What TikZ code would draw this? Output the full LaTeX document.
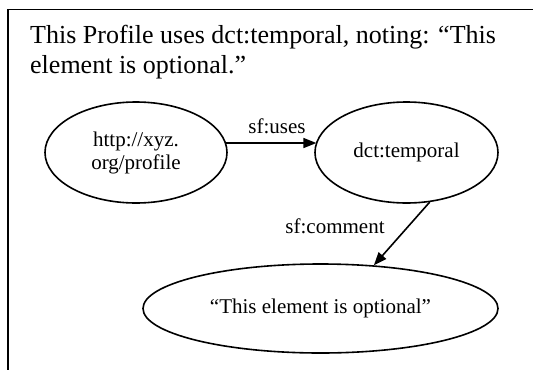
\documentclass[tikz,border=0pt]{standalone}
\usepackage{fontspec}
\setmainfont{Liberation Serif}
\usetikzlibrary{shapes.geometric,arrows.meta}
\tikzset{
  ell/.style={draw, ellipse, line width=1.6pt, inner sep=0pt, font=\fontsize{21}{23}\selectfont, align=center},
  arr/.style={line width=1.6pt, -{Triangle[length=13pt,width=10pt]}},
  lbl/.style={font=\fontsize{21}{23}\selectfont, inner sep=0pt},
  ttl/.style={font=\fontsize{26}{30}\selectfont, inner sep=0pt, anchor=base west}
}
\begin{document}
\begin{tikzpicture}[x=1pt,y=-1pt]
\useasboundingbox (0,0) rectangle (533,370);
\draw[line width=1.8pt] (533,9.5) -- (8,9.5) -- (8,370);
\node[ttl] (t1) at (30,43) {This Profile uses dct:temporal, noting: “This};
\node[ttl] (t2) at (30,73) {element is optional.”};
\node[ell, minimum width=182pt, minimum height=101pt] (A) at (136,152.5) {http://xyz.\\ org/profile};
\node[ell, minimum width=183pt, minimum height=101pt] (B) at (406.5,152.5) {dct:temporal};
\node[ell, minimum width=355pt, minimum height=89pt] (C) at (320.5,308.5) {“This element is optional”};
\draw[arr] (A.6.7) -- (A.6.7 -| B.173.3);
\draw[arr] (B.-65) -- (C.39);
\node[lbl] (l1) at (277,126) {sf:uses};
\node[lbl] (l2) at (335,226) {sf:comment};
\end{tikzpicture}
\end{document}
